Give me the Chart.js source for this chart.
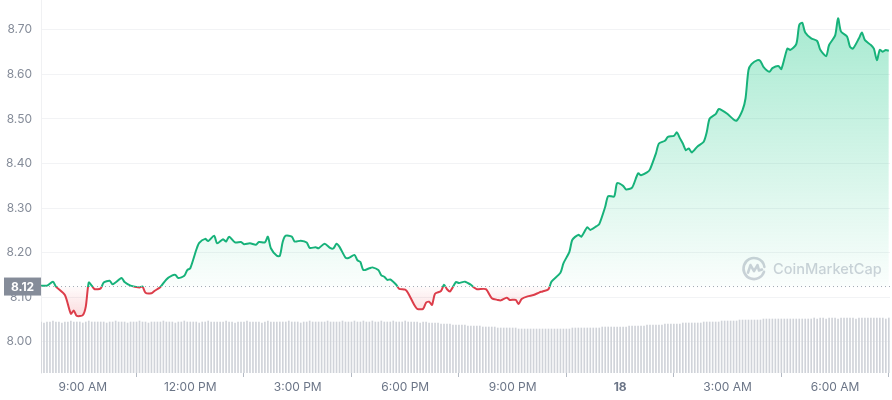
<!DOCTYPE html>
<html lang="en">
<head>
<meta charset="UTF-8">
<title>Price chart</title>
<script src="https://cdn.jsdelivr.net/npm/chart.js"></script>
<style>
  html, body { margin: 0; padding: 0; background: #fff; }
  #wrap { width: 892px; height: 400px; }
</style>
</head>
<body>
<div id="wrap"><canvas id="priceChart" width="892" height="400"></canvas></div>
<script>
// times are minutes after midnight of the 17th
const priceTimes = [
  470, 480, 490, 495, 510, 520, 525, 530, 540, 545,
  550, 555, 560, 570, 575, 585, 590, 605, 610, 620,
  635, 640, 645, 655, 660, 670, 680, 690, 695, 700,
  710, 715, 720, 730, 735, 745, 750, 760, 765, 775,
  780, 785, 795, 805, 810, 820, 830, 835, 845, 850,
  855, 865, 870, 875, 880, 890, 895, 905, 915, 920,
  930, 935, 945, 955, 960, 965, 970, 980, 985, 995,
  1000, 1005, 1010, 1020, 1025, 1035, 1040, 1045, 1050, 1055,
  1065, 1070, 1080, 1085, 1095, 1100, 1110, 1115, 1120, 1125,
  1130, 1140, 1145, 1150, 1155, 1165, 1170, 1180, 1190, 1195,
  1200, 1215, 1225, 1235, 1240, 1250, 1255, 1265, 1270, 1275,
  1285, 1295, 1305, 1310, 1320, 1325, 1340, 1345, 1355, 1360,
  1370, 1375, 1385, 1390, 1400, 1405, 1415, 1420, 1430, 1435,
  1445, 1450, 1460, 1470, 1475, 1485, 1490, 1500, 1505, 1515,
  1520, 1530, 1535, 1540, 1545, 1550, 1555, 1560, 1570, 1580,
  1585, 1590, 1600, 1605, 1610, 1620, 1630, 1635, 1645, 1650,
  1655, 1660, 1670, 1675, 1680, 1690, 1695, 1705, 1710, 1720,
  1725, 1735, 1740, 1745, 1750, 1760, 1770, 1775, 1785, 1790,
  1800, 1805, 1810, 1820, 1825, 1830, 1840, 1845, 1850, 1860,
  1865, 1870, 1875, 1880, 1885, 1890
];
const prices = [
  8.126, 8.126, 8.135, 8.124, 8.105, 8.063, 8.070, 8.058, 8.060, 8.079,
  8.133, 8.126, 8.118, 8.120, 8.133, 8.137, 8.129, 8.143, 8.134, 8.126,
  8.122, 8.124, 8.110, 8.109, 8.114, 8.123, 8.140, 8.149, 8.150, 8.143,
  8.148, 8.161, 8.165, 8.206, 8.222, 8.231, 8.226, 8.238, 8.221, 8.230,
  8.225, 8.236, 8.223, 8.224, 8.219, 8.221, 8.218, 8.224, 8.223, 8.236,
  8.210, 8.193, 8.193, 8.225, 8.238, 8.236, 8.225, 8.227, 8.223, 8.211,
  8.212, 8.210, 8.220, 8.210, 8.210, 8.220, 8.213, 8.189, 8.188, 8.195,
  8.183, 8.179, 8.161, 8.165, 8.167, 8.161, 8.149, 8.146, 8.139, 8.140,
  8.128, 8.119, 8.117, 8.109, 8.083, 8.074, 8.074, 8.088, 8.090, 8.083,
  8.108, 8.114, 8.128, 8.118, 8.113, 8.134, 8.132, 8.135, 8.128, 8.122,
  8.118, 8.118, 8.098, 8.094, 8.093, 8.099, 8.094, 8.094, 8.085, 8.096,
  8.102, 8.105, 8.111, 8.113, 8.118, 8.135, 8.155, 8.176, 8.202, 8.229,
  8.240, 8.236, 8.257, 8.251, 8.259, 8.264, 8.303, 8.327, 8.326, 8.356,
  8.350, 8.342, 8.346, 8.378, 8.374, 8.380, 8.387, 8.423, 8.445, 8.451,
  8.460, 8.462, 8.470, 8.457, 8.445, 8.430, 8.434, 8.425, 8.439, 8.449,
  8.470, 8.501, 8.511, 8.522, 8.520, 8.511, 8.499, 8.496, 8.520, 8.546,
  8.610, 8.623, 8.632, 8.630, 8.617, 8.606, 8.614, 8.619, 8.612, 8.658,
  8.655, 8.668, 8.711, 8.716, 8.694, 8.681, 8.675, 8.656, 8.641, 8.666,
  8.687, 8.726, 8.696, 8.685, 8.662, 8.658, 8.681, 8.694, 8.677, 8.666,
  8.658, 8.632, 8.655, 8.651, 8.655, 8.653
];

// volume, one bar every 5 minutes from 7:50 AM ($M)
const volumeStart = 470;
const volumeStep = 5;
const volumes = [
  5.1, 5.0, 5.1, 5.1, 5.2, 5.1, 5.1, 5.0, 5.1, 5.1, 5.2, 5.1, 5.1, 5.1, 5.0, 5.1, 5.2, 5.1, 5.1, 5.1,
  5.1, 5.1, 5.0, 5.1, 5.1, 5.2, 5.1, 5.1, 5.1, 5.0, 5.1, 5.1, 5.1, 5.2, 5.1, 5.1, 5.0, 5.1, 5.1, 5.1,
  5.1, 5.2, 5.1, 5.1, 5.1, 5.0, 5.1, 5.1, 5.2, 5.1, 5.1, 5.1, 5.1, 5.0, 5.1, 5.1, 5.2, 5.1, 5.1, 5.1,
  5.1, 5.1, 5.2, 5.1, 5.1, 5.0, 5.1, 5.1, 5.1, 5.2, 5.1, 5.1, 5.1, 5.1, 5.0, 5.1, 5.2, 5.1, 5.1, 5.1,
  5.1, 5.1, 5.1, 5.2, 5.1, 5.1, 5.1, 5.0, 5.1, 5.1, 5.2, 5.1, 5.1, 5.1, 5.1, 5.1, 5.2, 5.1, 5.1, 5.1,
  5.1, 5.2, 5.1, 5.1, 5.1, 5.2, 5.1, 5.1, 5.2, 5.1, 5.1, 5.2, 5.1, 5.1, 5.2, 5.1, 5.1, 5.1, 5.2, 5.1,
  5.1, 5.1, 5.2, 5.1, 5.1, 5.1, 5.1, 5.0, 5.1, 5.1, 5.0, 5.0, 5.0, 5.0, 4.9, 4.9, 4.9, 4.9, 4.8, 4.8,
  4.8, 4.8, 4.8, 4.7, 4.7, 4.7, 4.7, 4.7, 4.6, 4.6, 4.6, 4.6, 4.6, 4.5, 4.5, 4.5, 4.5, 4.5, 4.5, 4.5,
  4.4, 4.4, 4.4, 4.4, 4.4, 4.4, 4.4, 4.4, 4.4, 4.4, 4.4, 4.4, 4.4, 4.4, 4.4, 4.4, 4.4, 4.4, 4.5, 4.5,
  4.5, 4.5, 4.5, 4.5, 4.5, 4.5, 4.5, 4.5, 4.6, 4.6, 4.6, 4.6, 4.6, 4.6, 4.6, 4.6, 4.6, 4.7, 4.7, 4.7,
  4.7, 4.7, 4.7, 4.8, 4.8, 4.8, 4.8, 4.8, 4.8, 4.9, 4.9, 4.9, 4.9, 4.9, 4.9, 5.0, 5.0, 5.0, 5.0, 5.0,
  5.0, 5.0, 5.1, 5.1, 5.1, 5.1, 5.1, 5.1, 5.2, 5.2, 5.2, 5.2, 5.2, 5.2, 5.3, 5.3, 5.3, 5.3, 5.3, 5.3,
  5.3, 5.3, 5.4, 5.4, 5.4, 5.4, 5.4, 5.4, 5.4, 5.4, 5.4, 5.4, 5.4, 5.4, 5.4, 5.4, 5.4, 5.4, 5.4, 5.5,
  5.4, 5.5, 5.5, 5.4, 5.5, 5.5, 5.5, 5.4, 5.5, 5.5, 5.5, 5.5, 5.5, 5.4, 5.5, 5.5, 5.5, 5.5, 5.5, 5.5,
  5.5, 5.5, 5.5, 5.4, 5.5
];

const openPrice = 8.124;
const priceTicks = [8.00, 8.10, 8.20, 8.30, 8.40, 8.50, 8.60, 8.70];
const timeTicks = [540, 720, 900, 1080, 1260, 1440, 1620, 1800];
const timeLabels = ['9:00 AM', '12:00 PM', '3:00 PM', '6:00 PM', '9:00 PM', '18', '3:00 AM', '6:00 AM'];
const timeMin = 470;
const timeMax = 1892;

const green = '#17b27a';
const red = '#dc3d4a';

function baselineStop(chart) {
  const area = chart.chartArea;
  const y = chart.scales.y.getPixelForValue(openPrice);
  return Math.min(1, Math.max(0, (y - area.top) / (area.bottom - area.top)));
}

function lineColor(context) {
  const chart = context.chart;
  if (!chart.chartArea) return green;
  const area = chart.chartArea;
  const stop = baselineStop(chart);
  const g = chart.ctx.createLinearGradient(0, area.top, 0, area.bottom);
  g.addColorStop(0, green);
  g.addColorStop(stop, green);
  g.addColorStop(stop, red);
  g.addColorStop(1, red);
  return g;
}

function fillColor(context) {
  const chart = context.chart;
  if (!chart.chartArea) return 'rgba(22,199,132,0.1)';
  const area = chart.chartArea;
  const stop = baselineStop(chart);
  const g = chart.ctx.createLinearGradient(0, area.top, 0, area.bottom);
  g.addColorStop(0, 'rgba(22,199,132,0.4)');
  g.addColorStop(stop, 'rgba(22,199,132,0.02)');
  g.addColorStop(stop, 'rgba(234,57,67,0.02)');
  g.addColorStop(Math.min(1, stop + 0.09), 'rgba(234,57,67,0.2)');
  g.addColorStop(1, 'rgba(234,57,67,0.2)');
  return g;
}

// faint logo + name in the lower right
const watermark = {
  id: 'watermark',
  beforeDatasetsDraw(chart) {
    const c = chart.ctx;
    const area = chart.chartArea;
    const cx = area.right - 136;
    const cy = chart.scales.y.getPixelForValue(openPrice) - 18;
    c.save();
    c.strokeStyle = 'rgba(128,138,157,0.38)';
    c.fillStyle = 'rgba(128,138,157,0.38)';
    c.lineWidth = 2.6;
    c.lineCap = 'round';
    c.lineJoin = 'round';
    c.beginPath();
    c.arc(cx, cy, 10.5, Math.PI * 0.1, Math.PI * 1.95);
    c.stroke();
    c.beginPath();
    c.moveTo(cx - 6, cy + 4);
    c.lineTo(cx - 3.5, cy - 3.5);
    c.lineTo(cx, cy + 2.5);
    c.lineTo(cx + 3.5, cy - 3.5);
    c.lineTo(cx + 5, cy + 2);
    c.lineTo(cx + 8, cy + 1);
    c.stroke();
    c.font = '500 17px Inter';
    const w = c.measureText('CoinMarketCap').width;
    const size = 17 * 109 / w;
    c.font = '500 ' + size.toFixed(1) + 'px Inter';
    c.textBaseline = 'middle';
    c.fillText('CoinMarketCap', cx + 19, cy + 1);
    c.restore();
  }
};

// grey box with the opening price on the y axis
const openLabel = {
  id: 'openLabel',
  afterDraw(chart) {
    const c = chart.ctx;
    const y = chart.scales.y.getPixelForValue(openPrice);
    c.save();
    c.fillStyle = '#858c99';
    c.fillRect(4, y - 9, 37, 18);
    c.fillStyle = '#ffffff';
    c.font = 'bold 12px Inter';
    c.textAlign = 'center';
    c.textBaseline = 'middle';
    c.fillText(openPrice.toFixed(2), 22.5, y + 0.5);
    c.restore();
  }
};

const ctx = document.getElementById('priceChart').getContext('2d');
new Chart(ctx, {
  type: 'line',
  data: {
    datasets: [
      {
        type: 'line',
        label: 'Price',
        data: priceTimes.map((t, i) => ({ x: t, y: prices[i] })),
        borderColor: lineColor,
        backgroundColor: fillColor,
        fill: { target: { value: openPrice } },
        borderWidth: 2,
        pointRadius: 0,
        tension: 0.25,
        yAxisID: 'y',
        order: 1
      },
      {
        type: 'line',
        label: 'Open',
        data: [{ x: timeMin, y: openPrice }, { x: timeMax, y: openPrice }],
        borderColor: '#a3a9b4',
        borderWidth: 1,
        borderDash: [1, 3],
        pointRadius: 0,
        fill: false,
        yAxisID: 'y',
        order: 0
      },
      {
        type: 'bar',
        label: 'Volume',
        data: volumes.map((v, i) => ({ x: volumeStart + i * volumeStep, y: v })),
        backgroundColor: '#d0d3d9',
        barThickness: 1,
        yAxisID: 'vol',
        order: 2
      }
    ]
  },
  options: {
    responsive: false,
    animation: false,
    layout: { padding: { top: 0, right: 2, left: 0, bottom: 0 } },
    plugins: {
      legend: { display: false },
      tooltip: { enabled: false }
    },
    scales: {
      x: {
        type: 'linear',
        min: timeMin,
        max: timeMax,
        offset: false,
        afterBuildTicks: s => { s.ticks = timeTicks.map(v => ({ value: v })); },
        afterFit: s => { s.height = 27; },
        ticks: {
          autoSkip: false,
          maxRotation: 0,
          padding: 3,
          color: '#6b7587',
          callback: (v, i) => timeLabels[i],
          font: c => ({ family: 'Inter', size: 12, weight: timeLabels[c.index] === '18' ? 'bold' : 'normal' })
        },
        grid: { drawOnChartArea: false, drawTicks: true, tickLength: 4, color: '#b4bac4' },
        border: { display: false }
      },
      y: {
        position: 'left',
        min: 7.93,
        max: 8.767,
        afterBuildTicks: s => { s.ticks = priceTicks.map(v => ({ value: v })); },
        afterFit: s => { s.width = 41; s.paddingTop = 0; s.paddingBottom = 0; },
        ticks: {
          padding: 9,
          color: '#858c99',
          font: { family: 'Inter', size: 12 },
          callback: v => v.toFixed(2)
        },
        grid: { color: '#f2f3f5', drawTicks: false },
        border: { display: true, color: '#f0f1f3' }
      },
      vol: {
        display: false,
        min: 0,
        max: 37.3
      }
    }
  },
  plugins: [watermark, openLabel]
});
</script>
</body>
</html>
